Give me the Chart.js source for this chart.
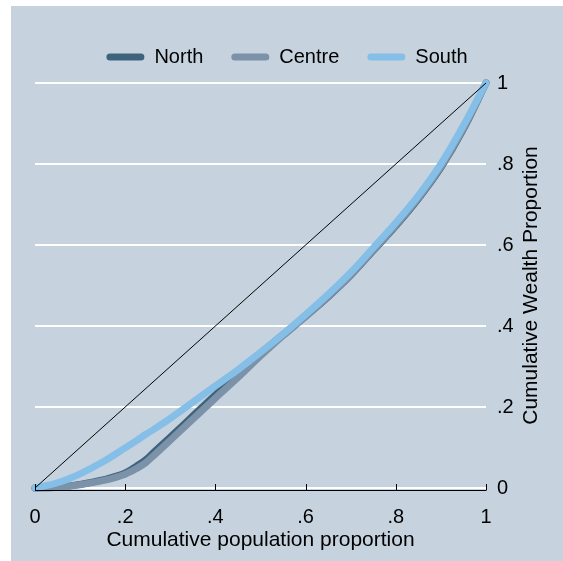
<!DOCTYPE html>
<html>
<head>
<meta charset="utf-8">
<title>Lorenz curves by region</title>
<script src="https://cdn.jsdelivr.net/npm/chart.js@4"></script>
<style>
  html, body { margin: 0; padding: 0; background: #ffffff; }
  #wrap { width: 563px; height: 561px; }
</style>
</head>
<body>
<div id="wrap"><canvas id="lorenz" width="563" height="561"></canvas></div>
<script>
// Cumulative population share (x) and cumulative wealth share (y) per region
const popShare = [0, 0.05, 0.1, 0.15, 0.2, 0.225, 0.245, 0.265, 0.3, 0.35, 0.4, 0.45, 0.5, 0.55, 0.6, 0.65, 0.7, 0.75, 0.8, 0.85, 0.9, 0.95, 1];
const north  = [0, 0.002, 0.009, 0.020, 0.037, 0.054, 0.069, 0.090, 0.126, 0.178, 0.230, 0.280, 0.332, 0.379, 0.424, 0.472, 0.525, 0.586, 0.647, 0.714, 0.791, 0.886, 1];
const centre = [0, 0.002, 0.008, 0.018, 0.034, 0.048, 0.062, 0.082, 0.118, 0.170, 0.222, 0.273, 0.326, 0.376, 0.423, 0.473, 0.526, 0.587, 0.649, 0.716, 0.793, 0.888, 1];
const south  = [0, 0.013, 0.035, 0.064, 0.099, 0.117, 0.132, 0.146, 0.172, 0.212, 0.252, 0.292, 0.335, 0.380, 0.428, 0.478, 0.532, 0.593, 0.655, 0.722, 0.800, 0.895, 1];
const equality = [0, 1];

const seriesNames = ['North', 'Centre', 'South'];
const xTickLabels = ['0', '.2', '.4', '.6', '.8', '1'];
const yTickLabels = ['0', '.2', '.4', '.6', '.8', '1'];
const xTitle = 'Cumulative population proportion';
const yTitle = 'Cumulative Wealth Proportion';

const FONT = '"Liberation Sans", Arial, Helvetica, sans-serif';
const seriesColors = ['#3e647d', '#7b92a8', '#85bfe8'];
const bgColor = '#c6d3df';

Chart.defaults.font.family = FONT;
Chart.defaults.font.size = 20;
Chart.defaults.color = '#000000';

const toPoints = (xs, ys) => xs.map((x, i) => ({ x: x, y: ys[i] }));

function curve(label, values, color, order) {
  return {
    label: label,
    data: toPoints(popShare, values),
    borderColor: color,
    backgroundColor: color,
    borderWidth: 7,
    borderCapStyle: 'round',
    borderJoinStyle: 'round',
    cubicInterpolationMode: 'monotone',
    pointRadius: 0,
    pointHoverRadius: 0,
    clip: false,
    order: order
  };
}

// Fills the graph region behind everything
const regionBackground = {
  id: 'regionBackground',
  beforeDraw(chart) {
    const { ctx, width, height } = chart;
    ctx.save();
    ctx.fillStyle = bgColor;
    ctx.fillRect(11, 6, width - 11, height - 6);
    ctx.restore();
  }
};

// Extra room between the legend row and the plot
const legendGap = {
  id: 'legendGap',
  beforeInit(chart) {
    const fit = chart.legend.fit;
    chart.legend.fit = function () {
      fit.bind(chart.legend)();
      this.height += 6;
    };
  }
};

// Bottom axis line sitting just under the plot, with ticks pointing up
const bottomAxis = {
  id: 'bottomAxis',
  afterDatasetsDraw(chart) {
    const { ctx, chartArea } = chart;
    const xs = chart.scales.x;
    const y0 = chartArea.bottom + 2.5;
    ctx.save();
    ctx.strokeStyle = '#000000';
    ctx.lineWidth = 1.2;
    ctx.beginPath();
    ctx.moveTo(xs.getPixelForValue(0), y0);
    ctx.lineTo(xs.getPixelForValue(1), y0);
    ctx.stroke();
    ctx.lineWidth = 1;
    xs.ticks.forEach(t => {
      const px = Math.round(xs.getPixelForValue(t.value)) + 0.5;
      ctx.beginPath();
      ctx.moveTo(px, y0);
      ctx.lineTo(px, chartArea.bottom - 4);
      ctx.stroke();
    });
    ctx.restore();
  }
};

// Right-hand axis title, reading bottom to top
const rightTitle = {
  id: 'rightTitle',
  afterDraw(chart) {
    const { ctx, chartArea } = chart;
    const ys = chart.scales.y;
    ctx.save();
    ctx.translate(ys.left + 45, (chartArea.top + chartArea.bottom) / 2);
    ctx.rotate(-Math.PI / 2);
    ctx.font = '21px ' + FONT;
    ctx.fillStyle = '#000000';
    ctx.textAlign = 'center';
    ctx.textBaseline = 'middle';
    ctx.fillText(yTitle, 0, 0);
    ctx.restore();
  }
};

new Chart(document.getElementById('lorenz'), {
  type: 'line',
  data: {
    datasets: [
      curve(seriesNames[0], north, seriesColors[0], 3),
      curve(seriesNames[1], centre, seriesColors[1], 2),
      curve(seriesNames[2], south, seriesColors[2], 1),
      {
        label: 'equality',
        data: toPoints(equality, equality),
        borderColor: '#000000',
        borderWidth: 1,
        pointRadius: 0,
        pointHoverRadius: 0,
        clip: false,
        order: 0
      }
    ]
  },
  options: {
    responsive: false,
    animation: false,
    events: [],
    layout: { padding: { left: 35, right: 24, top: 19, bottom: 0 } },
    plugins: {
      tooltip: { enabled: false },
      legend: {
        position: 'top',
        align: 'center',
        labels: {
          boxWidth: 38,
          boxHeight: 7,
          padding: 28,
          color: '#000000',
          font: { size: 20 },
          generateLabels() {
            return seriesNames.map((name, i) => ({
              text: name,
              fillStyle: seriesColors[i],
              strokeStyle: seriesColors[i],
              lineWidth: 0,
              borderRadius: 3.5,
              fontColor: '#000000',
              hidden: false,
              datasetIndex: i
            }));
          }
        }
      }
    },
    scales: {
      x: {
        type: 'linear',
        min: 0,
        max: 1,
        position: 'bottom',
        grid: { display: false, drawTicks: false },
        border: { display: false },
        ticks: {
          stepSize: 0.2,
          padding: 17,
          maxRotation: 0,
          color: '#000000',
          callback: (v, i) => xTickLabels[i]
        },
        title: {
          display: true,
          text: xTitle,
          color: '#000000',
          font: { size: 21 },
          padding: { top: 0, bottom: 8 }
        },
        afterFit(scale) { scale.height = 73; }
      },
      y: {
        type: 'linear',
        min: 0,
        max: 1,
        position: 'right',
        grid: { color: '#ffffff', lineWidth: 2, drawTicks: false },
        border: { display: false },
        ticks: {
          stepSize: 0.2,
          padding: 11,
          color: '#000000',
          callback: (v, i) => yTickLabels[i]
        },
        afterFit(scale) { scale.width = 53; }
      }
    }
  },
  plugins: [regionBackground, legendGap, bottomAxis, rightTitle]
});
</script>
</body>
</html>
